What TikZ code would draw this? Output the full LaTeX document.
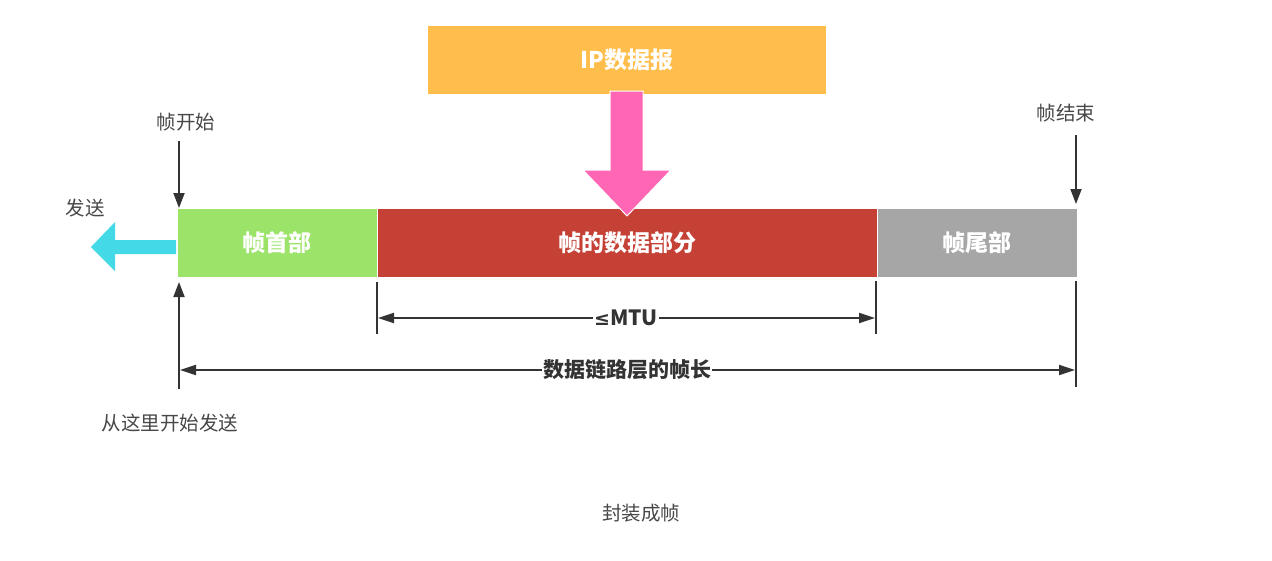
\documentclass[tikz,border=0pt]{standalone}
\usepackage{fontspec}
\newfontfamily\cjk{Noto Sans CJK SC}
\newfontfamily\symf{DejaVu Sans}
\usetikzlibrary{arrows.meta}
\definecolor{ipor}{HTML}{FFBE4C}
\definecolor{pinkar}{HTML}{FF66B3}
\definecolor{hdr}{HTML}{9CE36A}
\definecolor{dat}{HTML}{C54135}
\definecolor{trl}{HTML}{A6A6A6}
\definecolor{cyanar}{HTML}{44D9E6}
\definecolor{ink}{HTML}{333333}
\tikzset{
  seg/.style={draw=white, line width=1pt, inner sep=0pt, text=white, font=\cjk\bfseries\fontsize{23}{23}\selectfont},
  lbl/.style={inner sep=0pt, text=ink!90, font=\cjk\fontsize{19.5}{19.5}\selectfont},
  dimlbl/.style={inner sep=1pt, fill=white, text=ink, font=\cjk\bfseries\fontsize{21}{21}\selectfont},
  conn/.style={draw=ink, line width=1.8pt, -{Triangle[length=15pt,width=11pt]}},
  dim/.style={draw=ink, line width=1.8pt, {Triangle[length=16pt,width=10pt]}-{Triangle[length=16pt,width=10pt]}},
  tick/.style={draw=ink, line width=1.8pt},
}
\begin{document}
\begin{tikzpicture}[x=1pt,y=-1pt]
\useasboundingbox (0,0) rectangle (1272,560);
% boxes
\node[seg, fill=ipor, draw=none, minimum width=398pt, minimum height=68pt] (ip) at (627,60) {IP数据报};
\node[seg, fill=hdr, minimum width=200pt, minimum height=69pt] (hdr) at (277,243) {帧首部};
\node[seg, fill=dat, minimum width=500pt, minimum height=69pt] (dat) at (627,243) {帧的数据部分};
\node[seg, fill=trl, minimum width=200pt, minimum height=69pt] (trl) at (977,243) {帧尾部};
% pink arrow
\fill[pinkar, draw=white, line width=1pt] (610,91) -- (643,91) -- (643,170) -- (671,170) -- (627,216) -- (583,170) -- (610,170) -- cycle;
% cyan arrow
\fill[cyanar] (176,240) -- (115,240) -- (115,222) -- (91,247) -- (115,271) -- (115,254) -- (176,254) -- cycle;
% labels
\node[lbl] (send) at (85,208) {发送};
\node[lbl] (fstart) at (186,122) {帧开始};
\node[lbl] (fend) at (1066,113) {帧结束};
\node[lbl] (from) at (170,423) {从这里开始发送};
\node[lbl] (cap) at (641,513) {封装成帧};
% coordinates
\coordinate (fsA) at (179,141);
\coordinate (fsB) at (179,208);
\coordinate (feA) at (1076,135);
\coordinate (feB) at (1076,204);
\coordinate (upA) at (179,389);
\coordinate (upB) at (179,282);
\coordinate (m1t) at (377,282);
\coordinate (m1b) at (377,334);
\coordinate (m2t) at (876,281);
\coordinate (m2b) at (876,334);
\coordinate (r2t) at (1076,281);
\coordinate (r2b) at (1076,387);
\coordinate (mL) at (378,318);
\coordinate (mR) at (875,318);
\coordinate (lL) at (180,370);
\coordinate (lR) at (1075,370);
% connectors
\draw[conn] (fsA) -- (fsB);
\draw[conn] (feA) -- (feB);
\draw[conn] (upA) -- (upB);
\draw[tick] (m1t) -- (m1b);
\draw[tick] (m2t) -- (m2b);
\draw[tick] (r2t) -- (r2b);
\draw[dim] (mL) -- (mR);
\draw[dim] (lL) -- (lR);
\node[dimlbl] (mtu) at (626,318) {{\symf\fontsize{19}{19}\selectfont ≤}MTU};
\node[dimlbl] (flen) at (627,370) {数据链路层的帧长};
\end{tikzpicture}
\end{document}
